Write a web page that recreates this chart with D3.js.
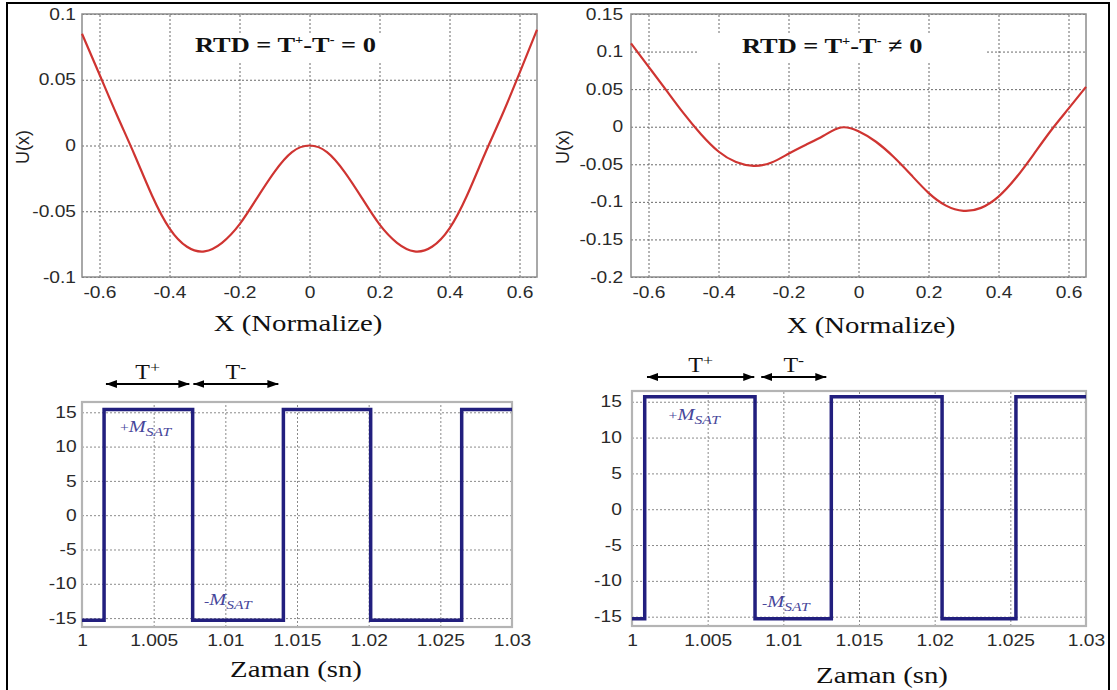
<!DOCTYPE html>
<html>
<head>
<meta charset="utf-8">
<script src="https://cdn.jsdelivr.net/npm/d3@7"></script>
<style>
  body { margin: 0; background: #fff; }
</style>
</head>
<body>
<svg id="chart" width="1117" height="690"></svg>
<script>
// ---- data ----
// potential U(x), symmetric case (RTD = 0)
const potX = [-0.65, -0.6, -0.55, -0.5, -0.45, -0.4, -0.35, -0.3, -0.25, -0.2, -0.15, -0.1, -0.05, 0,
              0.05, 0.1, 0.15, 0.2, 0.25, 0.3, 0.35, 0.4, 0.45, 0.5, 0.55, 0.6, 0.65];
const potSym = [0.085, 0.054, 0.023, -0.007, -0.038, -0.063, -0.077, -0.0805, -0.074, -0.060, -0.040, -0.020, -0.005, 0,
                -0.005, -0.020, -0.040, -0.060, -0.074, -0.0805, -0.077, -0.063, -0.038, -0.007, 0.023, 0.055, 0.088];
// potential U(x), asymmetric case (RTD != 0)
const potAsymX = [-0.65, -0.6, -0.55, -0.5, -0.45, -0.4, -0.35, -0.3, -0.25, -0.2, -0.15, -0.1, -0.05, 0,
                  0.05, 0.1, 0.15, 0.2, 0.25, 0.3, 0.35, 0.4, 0.45, 0.5, 0.55, 0.6, 0.65];
const potAsym = [0.111, 0.080, 0.049, 0.018, -0.010, -0.033, -0.047, -0.052, -0.048, -0.036, -0.024, -0.012, -0.001, -0.006,
                 -0.020, -0.040, -0.064, -0.088, -0.105, -0.112, -0.108, -0.093, -0.068, -0.037, -0.005, 0.024, 0.053];
// square wave output, switching times (sn) and levels
const timeSym = [1, 1.00154, 1.00772, 1.01405, 1.02014, 1.02649, 1.03];
const outSym = [-15.3, 15.4, -15.3, 15.4, -15.3, 15.4, 15.4];
const timeAsym = [1, 1.00084, 1.00813, 1.01317, 1.02049, 1.02537, 1.03];
const outAsym = [-15.3, 15.7, -15.3, 15.7, -15.3, 15.7, 15.7];
// tick labels
const potXTicks = [-0.6, -0.4, -0.2, 0, 0.2, 0.4, 0.6];
const potYTicksSym = [-0.1, -0.05, 0, 0.05, 0.1];
const potYTicksAsym = [-0.2, -0.15, -0.1, -0.05, 0, 0.05, 0.1, 0.15];
const timeTicks = [1, 1.005, 1.01, 1.015, 1.02, 1.025, 1.03];
const outTicks = [-15, -10, -5, 0, 5, 10, 15];
// T+ / T- arrows (start, end time) and M_SAT label anchors (time, level)
const arrowsSym = [[1.00167, 1.00749, '+'], [1.00777, 1.0137, '-']];
const arrowsAsym = [[1.00099, 1.00808, '+'], [1.00854, 1.01284, '-']];
const msatSym = [[1.00265, 12.1, '+'], [1.00851, -13.1, '-']];
const msatAsym = [[1.00242, 12.4, '+'], [1.00859, -13.7, '-']];

// ---- layout ----
const svg = d3.select('#chart');
const SANS = 'Liberation Sans, Arial, sans-serif';
const SERIF = 'Liberation Serif, Times New Roman, serif';
const SX = 1.2;  // the scanned lettering is a bit wider than normal
const fmt = d => String(+d.toFixed(4));

svg.append('defs').append('marker')
  .attr('id', 'arrow')
  .attr('viewBox', '0 0 11 8')
  .attr('refX', 11).attr('refY', 4)
  .attr('markerWidth', 11).attr('markerHeight', 8)
  .attr('markerUnits', 'userSpaceOnUse')
  .attr('orient', 'auto-start-reverse')
  .append('path').attr('d', 'M0,0L11,4L0,8Z').attr('fill', '#000');

// serif text, widened like the scan
function stretched(parent, x, y) {
  return parent.append('g')
    .attr('transform', `translate(${x},${y}) scale(${SX},1)`)
    .append('text')
    .attr('font-family', SERIF);
}

// grid, tick labels and box of one panel
function drawFrame(p) {
  const x = d3.scaleLinear().domain(p.xDomain).range([p.left, p.right]);
  const y = d3.scaleLinear().domain(p.yDomain).range([p.bottom, p.top]);
  const g = svg.append('g');
  const h = p.bottom - p.top, w = p.right - p.left;

  const gx = g.append('g')
    .attr('transform', `translate(0,${p.bottom})`)
    .call(d3.axisBottom(x).tickValues(p.xTicks).tickSizeInner(-h).tickSizeOuter(0)
      .tickPadding(p.xPad).tickFormat(fmt));
  const gy = g.append('g')
    .attr('transform', `translate(${p.left},0)`)
    .call(d3.axisLeft(y).tickValues(p.yTicks).tickSizeInner(-w).tickSizeOuter(0)
      .tickPadding(p.yPad).tickFormat(fmt));
  [gx, gy].forEach(a => {
    a.attr('font-family', SANS).attr('font-size', 16);
    a.select('.domain').remove();
    a.selectAll('.tick line')
      .attr('stroke', p.gridColor)
      .attr('stroke-width', 1)
      .attr('stroke-dasharray', '2,2');
    a.selectAll('.tick text')
      .attr('fill', '#2a2a2a')
      .attr('transform', `scale(${SX},1)`);
  });
  g.append('rect')
    .attr('x', p.left).attr('y', p.top)
    .attr('width', w).attr('height', h)
    .attr('fill', 'none')
    .attr('stroke', p.boxColor)
    .attr('stroke-width', p.boxWidth);
  return {x, y, g};
}

// ---- top row: potential curves ----
const potPanels = [
  {xs: potX, ys: potSym, yDomain: [-0.1, 0.1], yTicks: potYTicksSym, rel: '= 0',
   left: 82, right: 537, top: 14, bottom: 277, yPad: 5, titleX: 195, titleY: 52,
   titleBox: [187, 33, 205, 28], yLabelX: 23, xLabelX: 298, xLabelY: 331},
  {xs: potAsymX, ys: potAsym, yDomain: [-0.2, 0.15], yTicks: potYTicksAsym, rel: '\u2260 0',
   left: 631, right: 1086, top: 14, bottom: 277, yPad: 6.5, titleX: 742, titleY: 53,
   titleBox: [697, 35, 288, 27], yLabelX: 563, xLabelX: 871, xLabelY: 333}
];

potPanels.forEach(function(p) {
  p.xDomain = [-0.65, 0.65];
  p.xTicks = potXTicks;
  p.xPad = 10;
  p.gridColor = '#6a6a6a';
  p.boxColor = '#8c8c8c';
  p.boxWidth = 1.5;
  const f = drawFrame(p);

  // white box behind the title
  f.g.append('rect')
    .attr('x', p.titleBox[0]).attr('y', p.titleBox[1])
    .attr('width', p.titleBox[2]).attr('height', p.titleBox[3])
    .attr('fill', '#fff');

  const line = d3.line()
    .x((d, i) => f.x(p.xs[i]))
    .y(d => f.y(d))
    .curve(d3.curveNatural);
  f.g.append('path')
    .attr('d', line(p.ys))
    .attr('fill', 'none')
    .attr('stroke', '#cf3431')
    .attr('stroke-width', 2.2);

  // title RTD = T+ - T- ...
  const t = stretched(f.g, p.titleX, p.titleY)
    .attr('font-size', 22)
    .attr('font-weight', 'bold')
    .attr('fill', '#111');
  t.append('tspan').text('RTD = T');
  t.append('tspan').attr('dy', -8).attr('font-size', 12).text('+');
  t.append('tspan').attr('dy', 8).text('-T');
  t.append('tspan').attr('dy', -8).attr('font-size', 12).text('-');
  t.append('tspan').attr('dy', 8).text(' ' + p.rel);

  // axis labels
  f.g.append('text')
    .attr('transform', `translate(${p.yLabelX},147) rotate(-90)`)
    .attr('text-anchor', 'middle')
    .attr('dy', '0.35em')
    .attr('font-family', SANS)
    .attr('font-size', 18)
    .attr('fill', '#222')
    .text('U(x)');
  stretched(f.g, p.xLabelX, p.xLabelY)
    .attr('text-anchor', 'middle')
    .attr('font-size', 24)
    .attr('fill', '#111')
    .text('X (Normalize)');
});

// ---- bottom row: square waves ----
const wavePanels = [
  {ts: timeSym, vs: outSym, arrows: arrowsSym, msat: msatSym,
   left: 82, right: 512, top: 402, bottom: 627, yPad: 4.5, xPad: 8,
   arrowY: 384, tLabelY: 379, xLabelX: 296, xLabelY: 677},
  {ts: timeAsym, vs: outAsym, arrows: arrowsAsym, msat: msatAsym,
   left: 632, right: 1086, top: 391, bottom: 626, yPad: 8.5, xPad: 9,
   arrowY: 377, tLabelY: 372, xLabelX: 882, xLabelY: 683}
];

wavePanels.forEach(function(p) {
  p.xDomain = [1, 1.03];
  p.yDomain = [-16.3, 16.5];
  p.xTicks = timeTicks;
  p.yTicks = outTicks;
  p.gridColor = '#8a8a8a';
  p.boxColor = '#b4b4b4';
  p.boxWidth = 2.2;
  const f = drawFrame(p);

  const line = d3.line()
    .x((d, i) => f.x(p.ts[i]))
    .y(d => f.y(d))
    .curve(d3.curveStepAfter);
  f.g.append('path')
    .attr('d', line(p.vs))
    .attr('fill', 'none')
    .attr('stroke', '#221f7e')
    .attr('stroke-width', 3.5);

  // +M_SAT / -M_SAT
  p.msat.forEach(function(m) {
    const t = stretched(f.g, f.x(m[0]), f.y(m[1]))
      .attr('font-style', 'italic')
      .attr('fill', '#46469a');
    t.append('tspan').attr('font-size', 13).attr('font-style', 'normal').text(m[2]);
    t.append('tspan').attr('font-size', 17).text('M');
    t.append('tspan').attr('dy', 4).attr('font-size', 13).text('SAT');
  });

  // T+ / T- arrows above the plot
  p.arrows.forEach(function(a) {
    f.g.append('line')
      .attr('x1', f.x(a[0])).attr('x2', f.x(a[1]))
      .attr('y1', p.arrowY).attr('y2', p.arrowY)
      .attr('stroke', '#000')
      .attr('stroke-width', 2)
      .attr('marker-start', 'url(#arrow)')
      .attr('marker-end', 'url(#arrow)');
    const t = stretched(f.g, (f.x(a[0]) + f.x(a[1])) / 2, p.tLabelY)
      .attr('text-anchor', 'middle')
      .attr('font-size', 20)
      .attr('fill', '#111');
    t.append('tspan').text('T');
    t.append('tspan').attr('dy', -7).attr('font-size', 15).text(a[2]);
  });

  stretched(f.g, p.xLabelX, p.xLabelY)
    .attr('text-anchor', 'middle')
    .attr('font-size', 24)
    .attr('fill', '#111')
    .text('Zaman (sn)');
});

// outer frame of the figure
svg.append('rect')
  .attr('x', 7).attr('y', 3)
  .attr('width', 1102).attr('height', 720)
  .attr('fill', 'none')
  .attr('stroke', '#000')
  .attr('stroke-width', 2);
</script>
</body>
</html>
